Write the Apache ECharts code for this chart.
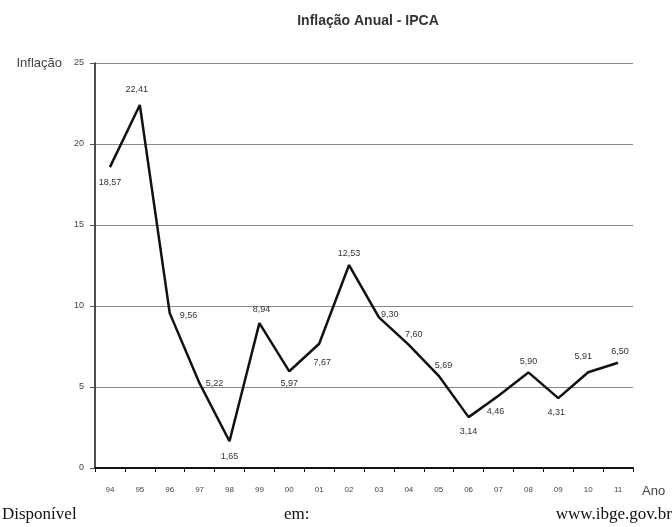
<!DOCTYPE html>
<html>
<head>
<meta charset="utf-8">
<script src="https://cdn.jsdelivr.net/npm/echarts@6/dist/echarts.min.js"></script>
<style>
html,body{margin:0;padding:0;background:#fff;}
#c{width:672px;height:527px;}
</style>
</head>
<body>
<div id="c"></div>
<script>
// ---- data ----
var years = ['94','95','96','97','98','99','00','01','02','03','04','05','06','07','08','09','10','11'];
var inflation = [18.57, 22.41, 9.56, 5.22, 1.65, 8.94, 5.97, 7.67, 12.53, 9.30, 7.60, 5.69, 3.14, 4.46, 5.90, 4.31, 5.91, 6.50];
var yTicks = [0, 5, 10, 15, 20, 25];

// ---- label placement (style) ----
var labelPos = ['bottom','top','right','right','bottom','top','bottom','bottom','top','right','right','right','bottom','bottom','top','bottom','top','top'];
var labelOff = [[0,5],[-3,-5],[4,2],[0,0],[0,5],[2,-3],[0,2],[3,8],[0,-1],[-4,-3],[-10,-10],[-10,-10],[0,4],[-3,5],[0,0],[-2,4],[-5,-5],[2,-1]];

function fmt(v){ return v.toFixed(2).replace('.', ','); }

var narrow = '"Liberation Sans Narrow", "Arial Narrow", "Liberation Sans", sans-serif';

var seriesData = inflation.map(function(v, i){
  return {
    value: v,
    label: { position: labelPos[i], offset: labelOff[i] }
  };
});

var chart = echarts.init(document.getElementById('c'));
chart.setOption({
  animation: false,
  backgroundColor: '#fff',
  title: {
    text: 'Inflação Anual - IPCA',
    left: 363, top: 9, textAlign: 'center',
    textStyle: { fontFamily: narrow, fontSize: 14, fontWeight: 'bold', color: '#333' }
  },
  grid: { left: 95, right: 39, top: 63, bottom: 59, containLabel: false },
  xAxis: {
    type: 'category',
    data: years,
    boundaryGap: true,
    name: 'Ano',
    nameLocation: 'end',
    nameGap: 9,
    nameTextStyle: { fontFamily: narrow, fontSize: 13, color: '#444', verticalAlign: 'top', padding: [17, 0, 0, 0] },
    axisLine: { show: true, lineStyle: { color: '#111', width: 2 } },
    axisTick: { show: true, alignWithLabel: false, length: 4, lineStyle: { color: '#111', width: 1 } },
    axisLabel: { fontFamily: narrow, fontSize: 8, color: '#444', margin: 18 },
    splitLine: { show: false }
  },
  yAxis: {
    type: 'value',
    min: 0, max: 25, interval: 5,
    name: 'Inflação',
    nameLocation: 'end',
    nameGap: 0,
    nameTextStyle: { fontFamily: narrow, fontSize: 13, color: '#444', align: 'right', verticalAlign: 'middle', padding: [0, 33, 8, 0] },
    axisLine: { show: true, lineStyle: { color: '#111', width: 1.5 } },
    axisTick: { show: true, length: 5, lineStyle: { color: '#555' } },
    axisLabel: {
      fontFamily: narrow, fontSize: 9, color: '#444', margin: 11,
      formatter: function(v){ return yTicks.indexOf(v) >= 0 ? String(v) : ''; }
    },
    splitLine: { show: true, lineStyle: { color: '#888', width: 1 } }
  },
  series: [{
    type: 'line',
    data: seriesData,
    showSymbol: true,
    symbol: 'circle',
    symbolSize: 0.1,
    itemStyle: { color: '#111' },
    lineStyle: { color: '#111', width: 2.5 },
    label: {
      show: true,
      distance: 6,
      fontFamily: narrow, fontSize: 9, color: '#333',
      formatter: function(p){ return fmt(p.value); }
    }
  }],
  graphic: [
    { type: 'text', left: 2, top: 506, style: { text: 'Disponível', font: '17px "Liberation Serif", "Times New Roman", serif', fill: '#111' } },
    { type: 'text', left: 284, top: 506, style: { text: 'em:', font: '17px "Liberation Serif", "Times New Roman", serif', fill: '#111' } },
    { type: 'text', right: 0, top: 506, style: { text: 'www.ibge.gov.br', font: '17px "Liberation Serif", "Times New Roman", serif', fill: '#111' } }
  ]
});
</script>
</body>
</html>
